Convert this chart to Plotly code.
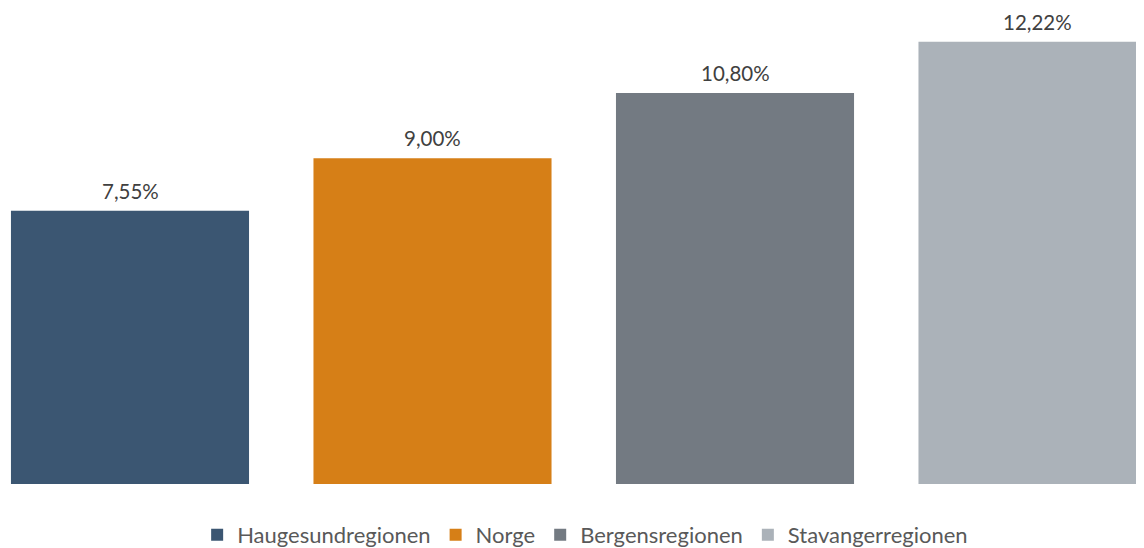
import plotly.graph_objects as go

categories = ["Haugesundregionen", "Norge", "Bergensregionen", "Stavangerregionen"]
values = [7.55, 9.00, 10.80, 12.22]
labels = ["7,55%", "9,00%", "10,80%", "12,22%"]
colors = ["#3B5672", "#D67F17", "#737A82", "#ABB2B9"]

FONT = "Lato"

fig = go.Figure()
for cat, val, col in zip(categories, values, colors):
    fig.add_trace(go.Bar(x=[cat], y=[val], name=cat, marker=dict(color=col, line=dict(width=0)),
                         hoverinfo="skip"))

for cat, val, lab in zip(categories, values, labels):
    fig.add_annotation(x=cat, y=val, text=lab, showarrow=False, yanchor="middle", yshift=20,
                       borderpad=0,
                       font=dict(family=FONT, size=20.5, color="#404040"))

fig.update_layout(
    width=1144, height=548,
    margin=dict(l=0, r=0, t=0, b=71),
    paper_bgcolor="white", plot_bgcolor="white",
    barmode="overlay", bargap=0.213,
    showlegend=True,
    legend=dict(orientation="h", x=0.5045, xanchor="center", y=-0.107, yanchor="middle",
                font=dict(family=FONT, size=22, color="#595959"), itemwidth=30,
                traceorder="normal"),
    xaxis=dict(type="category", categoryorder="array", categoryarray=categories,
               range=[-0.4033, 3.3785], showticklabels=False, showgrid=False, zeroline=False,
               showline=False),
    yaxis=dict(range=[0, 13.15], showticklabels=False, showgrid=False, zeroline=False,
               showline=False),
)

fig.write_html("out.html")
